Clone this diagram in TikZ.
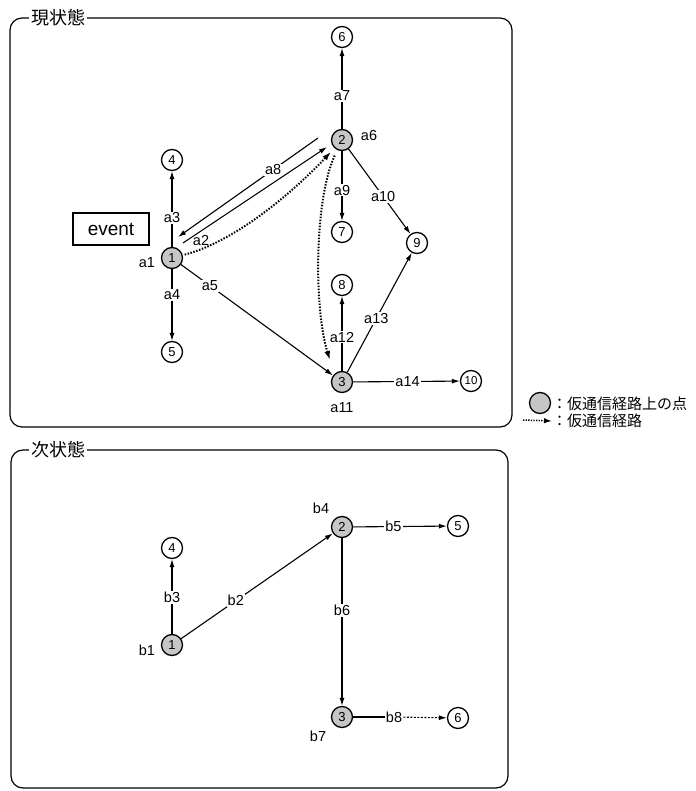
\documentclass[tikz,border=0pt]{standalone}
\usepackage{fontspec}
\setmainfont{Liberation Sans}
\newfontfamily\jp{Noto Sans CJK JP}
\usetikzlibrary{arrows.meta,calc}
\begin{document}
\begin{tikzpicture}[x=1pt,y=-1pt,
  pt/.style={circle,draw,line width=1.3pt,minimum size=21pt,inner sep=0pt,font=\fontsize{13}{13}\selectfont},
  hot/.style={pt,fill=gray!45},
  lab/.style={fill=white,inner sep=1pt,font=\fontsize{14.5}{14.5}\selectfont},
  nlab/.style={inner sep=0pt,font=\fontsize{14.5}{14.5}\selectfont},
  arr/.style={line width=1.1pt,-{Latex[length=8pt,width=5pt]}},
  plain/.style={line width=1.1pt},
  tmp/.style={line width=2pt,dash pattern=on 1.5pt off 1.5pt,-{Latex[length=9pt,width=6pt]}},
  panel/.style={draw,line width=1.2pt,rounded corners=12pt},
  ttl/.style={fill=white,inner sep=2pt,font=\jp\fontsize{18}{18}\selectfont},
  lgt/.style={anchor=west,inner sep=0pt,font=\jp\fontsize{15}{15}\selectfont}]
\useasboundingbox (0,0) rectangle (695,791);
\fill[white] (0,0) rectangle (695,791);
% panels
\draw[panel] (10,18) rectangle (512,427);
\node[ttl,anchor=west] (T1) at (29,18) {現状態};
\draw[panel] (11,450) rectangle (508,788);
\node[ttl,anchor=west] (T2) at (29,450) {次状態};
% top nodes
\node[hot] (A1) at (172,258) {1};
\node[hot] (A2) at (342,140) {2};
\node[hot] (A3) at (342,382) {3};
\node[pt] (A4) at (172,160) {4};
\node[pt] (A5) at (172,352) {5};
\node[pt] (A6) at (342,37) {6};
\node[pt] (A7) at (342,232) {7};
\node[pt] (A8) at (342,285) {8};
\node[pt] (A9) at (417,243) {9};
\node[pt,font=\fontsize{11.5}{11.5}\selectfont] (A10) at (471,381) {10};
\node[nlab] (la1) at (147,263) {a1};
\node[nlab] (la6) at (369,136) {a6};
\node[nlab] (la11) at (342,408) {a11};
\node[draw,line width=1.2pt,minimum width=76pt,minimum height=32pt,font=\fontsize{19}{19}\selectfont] (EV) at (111,229) {event};
% top edges
\draw[arr] (A1) -- node[lab,pos=0.385]{a3} (A4);
\draw[arr] (A1) -- node[lab,pos=0.36]{a4} (A5);
\draw[arr] (A1) -- node[lab,pos=0.19]{a5} (A3);
\draw[arr] (A2) -- node[lab,pos=0.41]{a7} (A6);
\draw[arr] (A2) -- node[lab,pos=0.56]{a9} (A7);
\draw[arr] (A2) -- node[lab,pos=0.56]{a10} (A9);
\draw[arr] (A3) -- node[lab,pos=0.45]{a12} (A8);
\draw[arr] (A3) -- node[lab,pos=0.45]{a13} (A9);
\draw[arr] (A3) -- node[lab,pos=0.51]{a14} (A10);
\coordinate (a8s) at ($(A2.center)+(-24,-2)$);
\coordinate (a8e) at ($(A1.center)+(6,-21)$);
\coordinate (a2s) at ($(A1.center)+(11,-15)$);
\coordinate (a2e) at ($(A2.center)+(-15,7)$);
\draw[arr] (a8s) -- node[lab,pos=0.32]{a8} (a8e);
\draw[arr] (a2s) -- (a2e);
\node[nlab] (la2) at (201,241) {a2};
\draw[tmp,shorten <=2pt,shorten >=5pt] (A1) .. controls (240,240) and (300,185) .. (A2);
\coordinate (d3) at (330,360);
\draw[tmp,shorten <=6pt] (A2) .. controls (314,200) and (314,310) .. (d3);
% legend
\node[hot] (LG) at (540,403) {};
\node[lgt] (LT1) at (552,404) {：仮通信経路上の点};
\node[lgt] (LT2) at (552,421) {：仮通信経路};
\coordinate (LS) at (523,420);
\draw[line width=1.5pt,dash pattern=on 1.3pt off 1.3pt,-{Latex[length=8pt,width=5.5pt]}] (LS) -- (LT2.west);
% bottom nodes
\node[hot] (B1) at (172,645) {1};
\node[hot] (B2) at (342,527) {2};
\node[hot] (B3) at (342,717) {3};
\node[pt] (B4) at (172,548) {4};
\node[pt] (B5) at (458,526) {5};
\node[pt] (B6) at (458,718) {6};
\node[nlab] (lb1) at (147,650) {b1};
\node[nlab] (lb4) at (321,508) {b4};
\node[nlab] (lb7) at (318,736) {b7};
% bottom edges
\draw[arr] (B1) -- node[lab,pos=0.49]{b3} (B4);
\draw[arr] (B1) -- node[lab,pos=0.36]{b2} (B2);
\draw[arr] (B2) -- node[lab,pos=0.43]{b5} (B5);
\draw[arr] (B2) -- node[lab,pos=0.43]{b6} (B3);
\node[lab] (lb8) at (394,717) {b8};
\draw[plain] (B3) -- (lb8);
\draw[arr,dash pattern=on 2pt off 1.5pt] (lb8) -- (B6);
\end{tikzpicture}
\end{document}
